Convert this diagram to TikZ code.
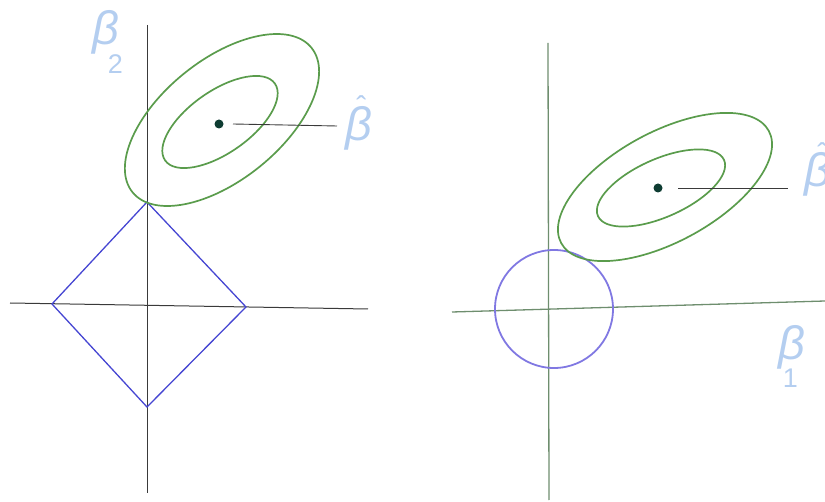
\documentclass[tikz,border=0pt]{standalone}
\usepackage{fontspec}
\setmainfont{Liberation Sans}
\definecolor{axisdark}{HTML}{3A3A3A}
\definecolor{axisgreen}{HTML}{6E8E6E}
\definecolor{ellgreen}{HTML}{5A9C4C}
\definecolor{diamblue}{HTML}{4646D2}
\definecolor{circblue}{HTML}{8078E2}
\definecolor{lblblue}{HTML}{B4CEF0}
\definecolor{dotcol}{HTML}{0E3C32}
\newcommand{\subat}[3]{\rlap{\hspace{#1}\smash{\raisebox{#2}{\fontsize{27}{27}\selectfont\upshape #3}}}}
\newcommand{\hatat}[2]{\rlap{\hspace{#1}\smash{\raisebox{#2}{\fontsize{30}{30}\selectfont\upshape ˆ}}}}
\begin{document}
\begin{tikzpicture}[x=1pt,y=-1pt,
  axisL/.style={draw=axisdark,line width=1pt},
  axisR/.style={draw=axisgreen,line width=1.3pt},
  contour/.style={draw=ellgreen,line width=1.7pt},
  lasso/.style={draw=diamblue,line width=1.3pt,line join=miter},
  ridge/.style={draw=circblue,line width=1.8pt},
  lead/.style={draw=axisdark,line width=0.9pt},
  bigsym/.style={text=lblblue,inner sep=0pt,font=\fontsize{47}{47}\selectfont\itshape},
  dotsty/.style={fill=dotcol}]
\useasboundingbox (0,0) rectangle (825,502);

% ---------- left panel ----------
\coordinate (LvT) at (147,25);
\coordinate (LvB) at (147,493);
\coordinate (LhL) at (10,303);
\coordinate (LhR) at (368,309);
\draw[axisL] (LvT) -- (LvB);
\draw[axisL] (LhL) -- (LhR);

\coordinate (Dt) at (147,202);
\coordinate (Dl) at (52,304);
\coordinate (Dr) at (246,307);
\coordinate (Db) at (147,407);
\draw[lasso] (Dt) -- (Dr) -- (Db) -- (Dl) -- cycle;

\coordinate (Lc) at (222,120);
\draw[contour,rotate around={38.9:(Lc)}] (Lc) ellipse [x radius=115pt,y radius=60pt];
\coordinate (Lci) at (220,122);
\draw[contour,rotate around={35:(Lci)}] (Lci) ellipse [x radius=67pt,y radius=31pt];

\coordinate (Ldot) at (219,124);
\fill[dotsty] (Ldot) circle (4.5pt);
\coordinate (LleadA) at (233,124);
\coordinate (LleadB) at (337,126);
\draw[lead] (LleadA) -- (LleadB);

\node[bigsym] (Lb2) at (106,32) {β\subat{-11.5pt}{-28.9pt}{2}};
\node[bigsym] (Lbh) at (359,128) {β\hatat{-16pt}{23pt}};

% ---------- right panel ----------
\coordinate (RvT) at (548,43);
\coordinate (RvB) at (549,500);
\coordinate (RhL) at (452,312);
\coordinate (RhR) at (825,301);
\draw[axisR] (RvT) -- (RvB);
\draw[axisR] (RhL) -- (RhR);

\coordinate (Rcc) at (554,309);
\draw[ridge] (Rcc) circle (59pt);

\coordinate (Rc) at (665,187);
\draw[contour,rotate around={28.4:(Rc)}] (Rc) ellipse [x radius=118pt,y radius=55pt];
\coordinate (Rci) at (661,188);
\draw[contour,rotate around={24:(Rci)}] (Rci) ellipse [x radius=69pt,y radius=29pt];

\coordinate (Rdot) at (658,188);
\fill[dotsty] (Rdot) circle (4.5pt);
\coordinate (RleadA) at (678,188);
\coordinate (RleadB) at (788,188);
\draw[lead] (RleadA) -- (RleadB);

\node[bigsym] (Rbh) at (818,174) {β\hatat{-14pt}{22pt}};
\node[bigsym] (Rb1) at (792,347) {β\subat{-22.5pt}{-27.9pt}{1}};
\end{tikzpicture}
\end{document}
